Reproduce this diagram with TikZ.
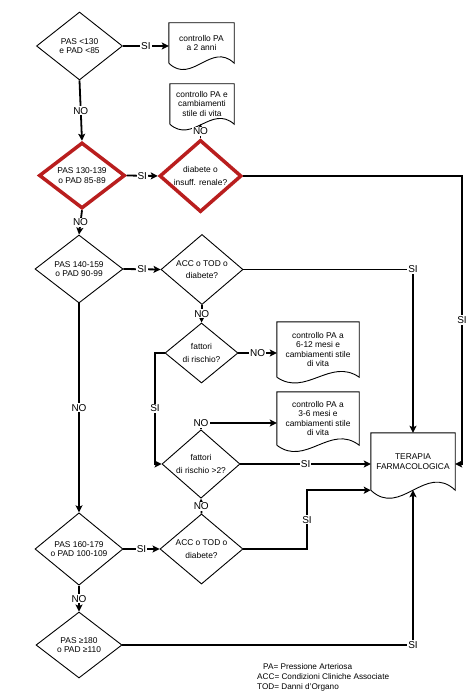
\documentclass[tikz,border=0pt]{standalone}
\usepackage{fontspec}
\setmainfont{Liberation Sans}
\usetikzlibrary{shapes.geometric,arrows.meta,calc}
\definecolor{dred}{RGB}{185,30,30}
\newcommand\docshape[2]{%
  \draw[docline] (#1.south west) -- (#1.north west) -- (#1.north east) -- (#1.south east)
    .. controls ($(#1.south west)!0.65!(#1.south east)+(0,-#2)$) and ($(#1.south west)!0.35!(#1.south east)+(0,#2)$) .. (#1.south west);}
\begin{document}
\begin{tikzpicture}[x=1pt,y=-1pt,
  txt/.style={font=\fontsize{8.4}{9.6}\selectfont, align=center},
  qtxt/.style={font=\fontsize{8.4}{12.5}\selectfont, align=center},
  dia/.style={diamond, draw, line width=0.9pt, inner sep=0pt, txt},
  reddia/.style={dia, draw=dred, line width=3.5pt},
  docbox/.style={rectangle, inner sep=0pt, txt},
  docline/.style={line width=0.9pt},
  conn/.style={line width=1.8pt},
  arr/.style={conn, -{Stealth[length=7pt,width=7pt,inset=1.5pt]}},
  lab/.style={fill=white, inner sep=1pt, font=\fontsize{10}{11}\selectfont},
  legend/.style={anchor=west, inner sep=0pt, font=\fontsize{8.2}{9}\selectfont}
]
\fill[white] (0,0) rectangle (466,700);

\node[dia, minimum width=86pt, minimum height=68pt] (d1) at (79.5,46) {PAS <130\\e PAD <85};
\node[docbox, minimum width=65pt, minimum height=40pt] (b1) at (201.5,43) {controllo PA\\a 2 anni};
\node[docbox, minimum width=64pt, minimum height=40pt] (b2) at (202,104) {controllo PA e\\cambiamenti\\stile di vita};
\node[reddia, minimum width=86pt, minimum height=66pt] (d2) at (82,175.5) {PAS 130-139\\o PAD 85-89};
\node[reddia, qtxt, minimum width=82pt, minimum height=55pt] (d3) at (200.5,176) {diabete o\\insuff. renale?};
\node[dia, minimum width=88pt, minimum height=68pt] (d4) at (79,269) {PAS 140-159\\o PAD 90-99};
\node[dia, qtxt, minimum width=82pt, minimum height=65pt] (d5) at (202,269.5) {ACC o TOD o\\diabete?};
\node[dia, qtxt, minimum width=73pt, minimum height=60pt] (d6) at (201.5,353) {fattori\\di rischio?};
\node[docbox, minimum width=82pt, minimum height=55pt] (b3) at (318,349.5) {controllo PA a\\6-12 mesi e\\cambiamenti stile\\di vita};
\node[docbox, minimum width=82pt, minimum height=53pt] (b4) at (318,418.5) {controllo PA a\\3-6 mesi e\\cambiamenti stile\\di vita};
\node[dia, qtxt, minimum width=78pt, minimum height=57pt] (d7) at (201,464) {fattori\\di rischio >2?};
\node[docbox, minimum width=84pt, minimum height=57pt] (T) at (413,461.5) {TERAPIA\\FARMACOLOGICA};
\node[dia, qtxt, minimum width=83pt, minimum height=58pt] (d8) at (201.5,549) {ACC o TOD o\\diabete?};
\node[dia, minimum width=88pt, minimum height=68pt] (d9) at (79,549) {PAS 160-179\\o PAD 100-109};
\node[dia, minimum width=86pt, minimum height=66pt] (d10) at (79,645) {PAS ≥180\\o PAD ≥110};

\docshape{b1}{22}
\docshape{b2}{20}
\docshape{b3}{20}
\docshape{b4}{22}
\docshape{T}{28}

\node[legend] (l1) at (263,667) {PA= Pressione Arteriosa};
\node[legend] (l2) at (257,677) {ACC= Condizioni Cliniche Associate};
\node[legend] (l3) at (257,687) {TOD= Danni d'Organo};

\coordinate (rx) at (462,0);
\coordinate (lx) at (155,0);
\coordinate (mx) at (307,0);
\coordinate (n7) at (201,423);

\draw[arr] (d1.east) -- node[lab]{SI} (d1.east -| b1.west);
\draw[arr] (d1.south) -- node[lab]{NO} (d2.north);
\draw[arr] (d2.east) -- node[lab]{SI} (d3.west);
\draw[arr] (d3.north) -- node[lab]{NO} (d3.north |- b2.south);
\draw[arr] (d3.east) -- (d3.east -| rx) -- node[lab]{SI} (rx |- d7.east) -- (T.east |- d7.east);
\draw[arr] (d2.south) -- node[lab]{NO} (d4.north);
\draw[arr] (d4.east) -- node[lab]{SI} (d5.west);
\draw[arr] (d5.east) -| node[lab,pos=0.5]{SI} (T.north);
\draw[arr] (d5.south) -- node[lab]{NO} (d6.north);
\draw[arr] (d6.east) -- node[lab]{NO} (d6.east -| b3.west);
\draw[arr] (d6.west) -- (d6.west -| lx) -- node[lab]{SI} (lx |- d7.west) -- (d7.west);
\draw[arr] (d7.north) -- (n7) node[lab]{NO} -- (n7 -| b4.west);
\draw[arr] (d7.east) -- node[lab]{SI} (d7.east -| T.west);
\draw[arr] (d8.north) -- node[lab]{NO} (d7.south);
\draw[arr] (d8.east) -- (d8.east -| mx) -- node[lab]{SI} (mx |- T.south west) -- (T.south west);
\draw[arr] (d4.south) -- node[lab]{NO} (d9.north);
\draw[arr] (d9.east) -- node[lab]{SI} (d8.west);
\draw[arr] (d9.south) -- node[lab]{NO} (d10.north);
\draw[arr] (d10.east) -| node[lab,pos=0.5]{SI} (T.south);
\end{tikzpicture}
\end{document}
